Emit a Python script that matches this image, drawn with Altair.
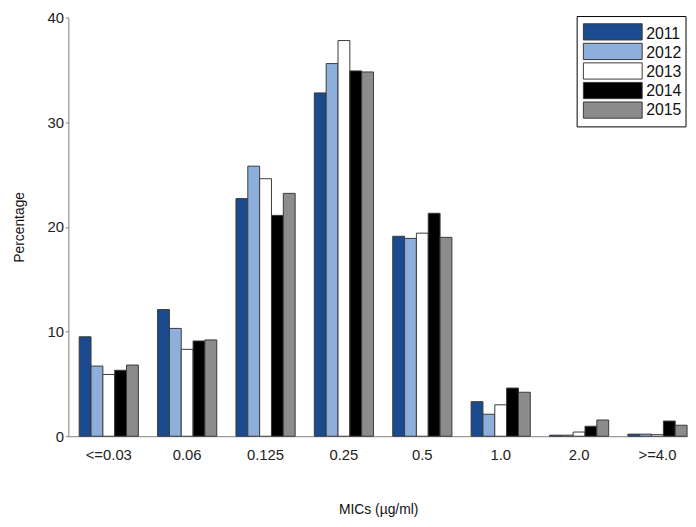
import altair as alt
import pandas as pd

mics = ["<=0.03", "0.06", "0.125", "0.25", "0.5", "1.0", "2.0", ">=4.0"]
years = ["2011", "2012", "2013", "2014", "2015"]
p2011 = [9.5, 12.1, 22.7, 32.8, 19.1, 3.3, 0.1, 0.2]
p2012 = [6.7, 10.3, 25.8, 35.6, 18.9, 2.1, 0.1, 0.2]
p2013 = [5.9, 8.3, 24.6, 37.8, 19.4, 3.0, 0.4, 0.15]
p2014 = [6.3, 9.1, 21.1, 34.9, 21.3, 4.6, 0.95, 1.45]
p2015 = [6.8, 9.2, 23.2, 34.8, 19.0, 4.2, 1.55, 1.05]
colors = ["#1b4a8e", "#8eaedc", "#ffffff", "#000000", "#8c8c8c"]
y_ticks = [0, 10, 20, 30, 40]

series = [p2011, p2012, p2013, p2014, p2015]
rows = []
for yr, vals in zip(years, series):
    for m, v in zip(mics, vals):
        rows.append({"mic": m, "year": yr, "pct": v})
df = pd.DataFrame(rows)
legend_df = pd.DataFrame({"year": years})

FONT = "Liberation Sans"

color_scale = alt.Scale(domain=years, range=colors)

bars = alt.Chart(df).mark_bar(stroke="#3a3a3a", strokeWidth=1).encode(
    x=alt.X("mic:N", sort=mics,
            scale=alt.Scale(paddingInner=0.245, paddingOuter=0.075, align=0.92),
            axis=alt.Axis(title="MICs (µg/ml)", labelAngle=0, ticks=False, tickSize=0,
                          labelPadding=12, titlePadding=40, labelFontSize=15,
                          titleFontSize=14, titleFontWeight="normal")),
    xOffset=alt.XOffset("year:N", sort=years, scale=alt.Scale(paddingInner=0, paddingOuter=0)),
    y=alt.Y("pct:Q", scale=alt.Scale(domain=[0, 40], nice=False),
            axis=alt.Axis(title="Percentage", values=y_ticks, grid=False, tickSize=3,
                          labelPadding=2, titlePadding=21, labelFontSize=15,
                          titleFontSize=14, titleFontWeight="normal")),
    color=alt.Color("year:N", scale=color_scale, legend=None),
)

leg_y = alt.Scale(domain=years, range=[6.3, 101.7], paddingInner=0.17, paddingOuter=0)

box = alt.Chart(pd.DataFrame({"k": [0]})).mark_rect(
    fill="white", stroke="#000000", strokeWidth=1
).encode(x=alt.value(514), x2=alt.value(624), y=alt.value(-1), y2=alt.value(110.5))

swatches = alt.Chart(legend_df).mark_rect(stroke="#3a3a3a", strokeWidth=1).encode(
    x=alt.value(520.3), x2=alt.value(579.7),
    y=alt.Y("year:O", sort=years, scale=leg_y, axis=None),
    color=alt.Color("year:N", scale=color_scale, legend=None),
)

labels = alt.Chart(legend_df).mark_text(
    align="left", baseline="middle", fontSize=16, font=FONT, color="#111111", dy=1
).encode(
    x=alt.value(583.7),
    y=alt.Y("year:O", sort=years, scale=leg_y, axis=None),
    text="year:N",
)

chart = alt.layer(bars, box, swatches, labels).resolve_scale(y="independent").properties(
    width=626, height=423,
    padding={"left": 4, "top": 0, "right": 0, "bottom": 0},
).configure_view(stroke=None).configure_axis(
    labelFont=FONT, titleFont=FONT, labelColor="#222222", titleColor="#111111",
    domainColor="#808080", tickColor="#808080",
)

chart.save("out.html", embed_options={"renderer": "svg", "actions": False})
